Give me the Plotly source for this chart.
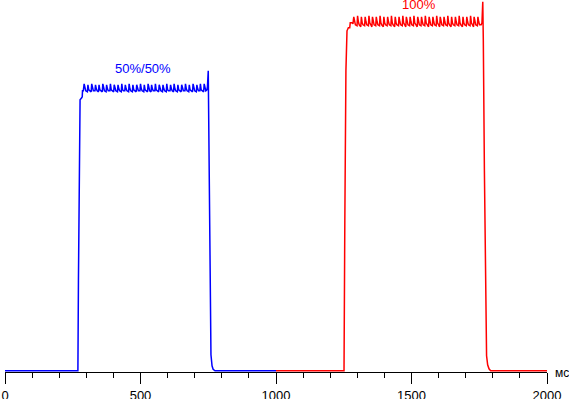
import plotly.graph_objects as go

# ---- data (time in ms, brightness in arbitrary units) ----
blue_t = [0, 269, 271, 274, 277, 283, 285, 286, 289,
          292, 295, 298, 304,
          306, 309, 312, 318,
          320, 323, 326, 332,
          334, 337, 340, 345,
          347, 350, 353, 359,
          361, 364, 367, 373,
          375, 378, 381, 387,
          389, 392, 395, 401,
          403, 406, 409, 415,
          417, 420, 423, 429,
          431, 434, 437, 442,
          444, 447, 450, 456,
          458, 461, 464, 470,
          472, 475, 478, 484,
          486, 489, 492, 498,
          500, 503, 506, 512,
          514, 517, 520, 526,
          528, 531, 534, 539,
          541, 544, 547, 553,
          555, 558, 561, 567,
          569, 572, 575, 581,
          583, 586, 589, 595,
          597, 600, 603, 609,
          611, 614, 617, 622,
          624, 627, 630, 636,
          638, 641, 644, 650,
          652, 655, 658, 664,
          666, 669, 672, 678,
          680, 683, 686, 692,
          694, 697, 700, 706,
          708, 711, 714, 719,
          721, 724, 727, 733,
          735, 738, 741, 745,
          747, 750, 752, 756, 760, 764, 768, 775, 1000]
blue_v = [0, 0, 90, 200, 271, 273, 274, 280, 280,
          287, 282, 280, 279,
          286, 281, 280, 279,
          287, 282, 280, 280,
          286, 282, 280, 279,
          286, 281, 280, 279,
          287, 282, 280, 279,
          286, 282, 280, 280,
          287, 281, 280, 279,
          286, 282, 280, 279,
          286, 282, 280, 279,
          287, 281, 280, 280,
          286, 282, 280, 279,
          287, 282, 280, 279,
          286, 281, 280, 279,
          286, 282, 280, 280,
          287, 282, 280, 279,
          286, 281, 280, 279,
          287, 282, 280, 279,
          286, 282, 280, 280,
          287, 281, 280, 279,
          286, 282, 280, 279,
          286, 282, 280, 279,
          287, 281, 280, 280,
          286, 282, 280, 279,
          287, 282, 280, 279,
          286, 281, 280, 279,
          286, 282, 280, 280,
          287, 282, 280, 279,
          286, 281, 280, 279,
          287, 282, 280, 279,
          286, 282, 280, 280,
          287, 281, 280, 279,
          287, 282, 280, 281,
          284, 300, 250, 130, 16, 5, 1.5, 0, 0]

red_t = [1000, 1251, 1254, 1258, 1262, 1267, 1272, 1274, 1280, 1284,
         1287, 1290, 1293, 1299,
         1301, 1304, 1307, 1313,
         1315, 1318, 1321, 1327,
         1329, 1332, 1335, 1341,
         1343, 1346, 1349, 1354,
         1356, 1359, 1362, 1368,
         1370, 1373, 1376, 1382,
         1384, 1387, 1390, 1396,
         1398, 1401, 1404, 1410,
         1412, 1415, 1418, 1424,
         1426, 1429, 1432, 1438,
         1440, 1443, 1446, 1452,
         1454, 1457, 1460, 1466,
         1468, 1471, 1474, 1479,
         1481, 1484, 1487, 1493,
         1495, 1498, 1501, 1507,
         1509, 1512, 1515, 1521,
         1523, 1526, 1529, 1535,
         1537, 1540, 1543, 1549,
         1551, 1554, 1557, 1563,
         1565, 1568, 1571, 1577,
         1579, 1582, 1585, 1591,
         1593, 1596, 1599, 1604,
         1606, 1609, 1612, 1618,
         1620, 1623, 1626, 1632,
         1634, 1637, 1640, 1646,
         1648, 1651, 1654, 1660,
         1662, 1665, 1668, 1674,
         1676, 1679, 1682, 1688,
         1690, 1693, 1696, 1702,
         1704, 1707, 1710, 1716,
         1718, 1721, 1724, 1729,
         1731, 1734, 1737, 1743,
         1745, 1748, 1751, 1757,
         1760, 1763, 1765, 1769, 1773, 1777, 1781, 1786, 1792, 2000]
red_v = [0, 0, 150, 300, 340, 343, 343, 348, 348, 347,
         354, 348, 346, 345,
         355, 349, 346, 344,
         354, 348, 346, 345,
         354, 349, 346, 345,
         355, 348, 346, 344,
         354, 348, 346, 345,
         354, 349, 346, 345,
         355, 348, 346, 344,
         354, 348, 346, 345,
         354, 349, 346, 345,
         355, 348, 346, 344,
         354, 348, 346, 345,
         354, 349, 346, 345,
         355, 348, 346, 344,
         354, 348, 346, 345,
         354, 349, 346, 345,
         355, 348, 346, 344,
         354, 348, 346, 345,
         354, 349, 346, 345,
         355, 348, 346, 344,
         354, 348, 346, 345,
         354, 349, 346, 345,
         355, 348, 346, 344,
         354, 348, 346, 345,
         354, 349, 346, 345,
         355, 348, 346, 344,
         354, 348, 346, 345,
         354, 349, 346, 345,
         355, 348, 346, 344,
         354, 348, 346, 345,
         354, 349, 346, 345,
         355, 348, 346, 344,
         354, 348, 346, 345,
         354, 349, 346, 346,
         348, 369, 330, 200, 80, 15, 6, 2, 0, 0]

x_ticks = [0, 500, 1000, 1500, 2000]
x_tick_labels = ["0", "500", "1000", "1500", "2000"]
labels = ["50%/50%", "100%"]
label_x = [509, 1528]
label_y = [302, 366]
unit_label = "мс"

BLUE = "#0000ff"
RED = "#ff0000"
FONT = "Liberation Sans, Arial, sans-serif"

fig = go.Figure()
fig.add_trace(go.Scatter(x=blue_t, y=blue_v, mode="lines",
                         line=dict(color=BLUE, width=1.5), hoverinfo="skip"))
fig.add_trace(go.Scatter(x=red_t, y=red_v, mode="lines",
                         line=dict(color=RED, width=1.5), hoverinfo="skip"))

for txt, xx, yy, col in zip(labels, label_x, label_y, [BLUE, RED]):
    fig.add_annotation(x=xx, y=yy, xref="x", yref="y", text=txt, showarrow=False,
                       font=dict(family=FONT, size=13, color=col),
                       xanchor="center", yanchor="middle")

fig.add_annotation(x=2000, y=0, xref="x", yref="paper", text=unit_label,
                   showarrow=False, xanchor="left", yanchor="middle",
                   xshift=6, yshift=-1,
                   font=dict(family=FONT, size=12, color="black"))

fig.update_layout(
    width=569, height=399,
    margin=dict(l=5, r=22, t=0, b=27),
    paper_bgcolor="white", plot_bgcolor="white",
    showlegend=False,
    xaxis=dict(range=[0, 2000], tickvals=x_ticks, ticktext=x_tick_labels,
               ticks="outside", ticklen=11, tickwidth=1, tickcolor="black",
               showline=True, linecolor="black", linewidth=1,
               showgrid=False, zeroline=False, automargin=False,
               tickfont=dict(family=FONT, size=13, color="black"),
               minor=dict(dtick=100, tick0=0, ticks="outside", ticklen=5,
                          tickwidth=1, tickcolor="black", showgrid=False)),
    yaxis=dict(range=[-1.2, 370.8], visible=False, showgrid=False,
               zeroline=False, automargin=False),
)

fig.write_html("out.html", config={"displayModeBar": False},
               post_script="document.body.style.margin='0';document.body.style.padding='0';document.body.style.overflow='hidden';")
